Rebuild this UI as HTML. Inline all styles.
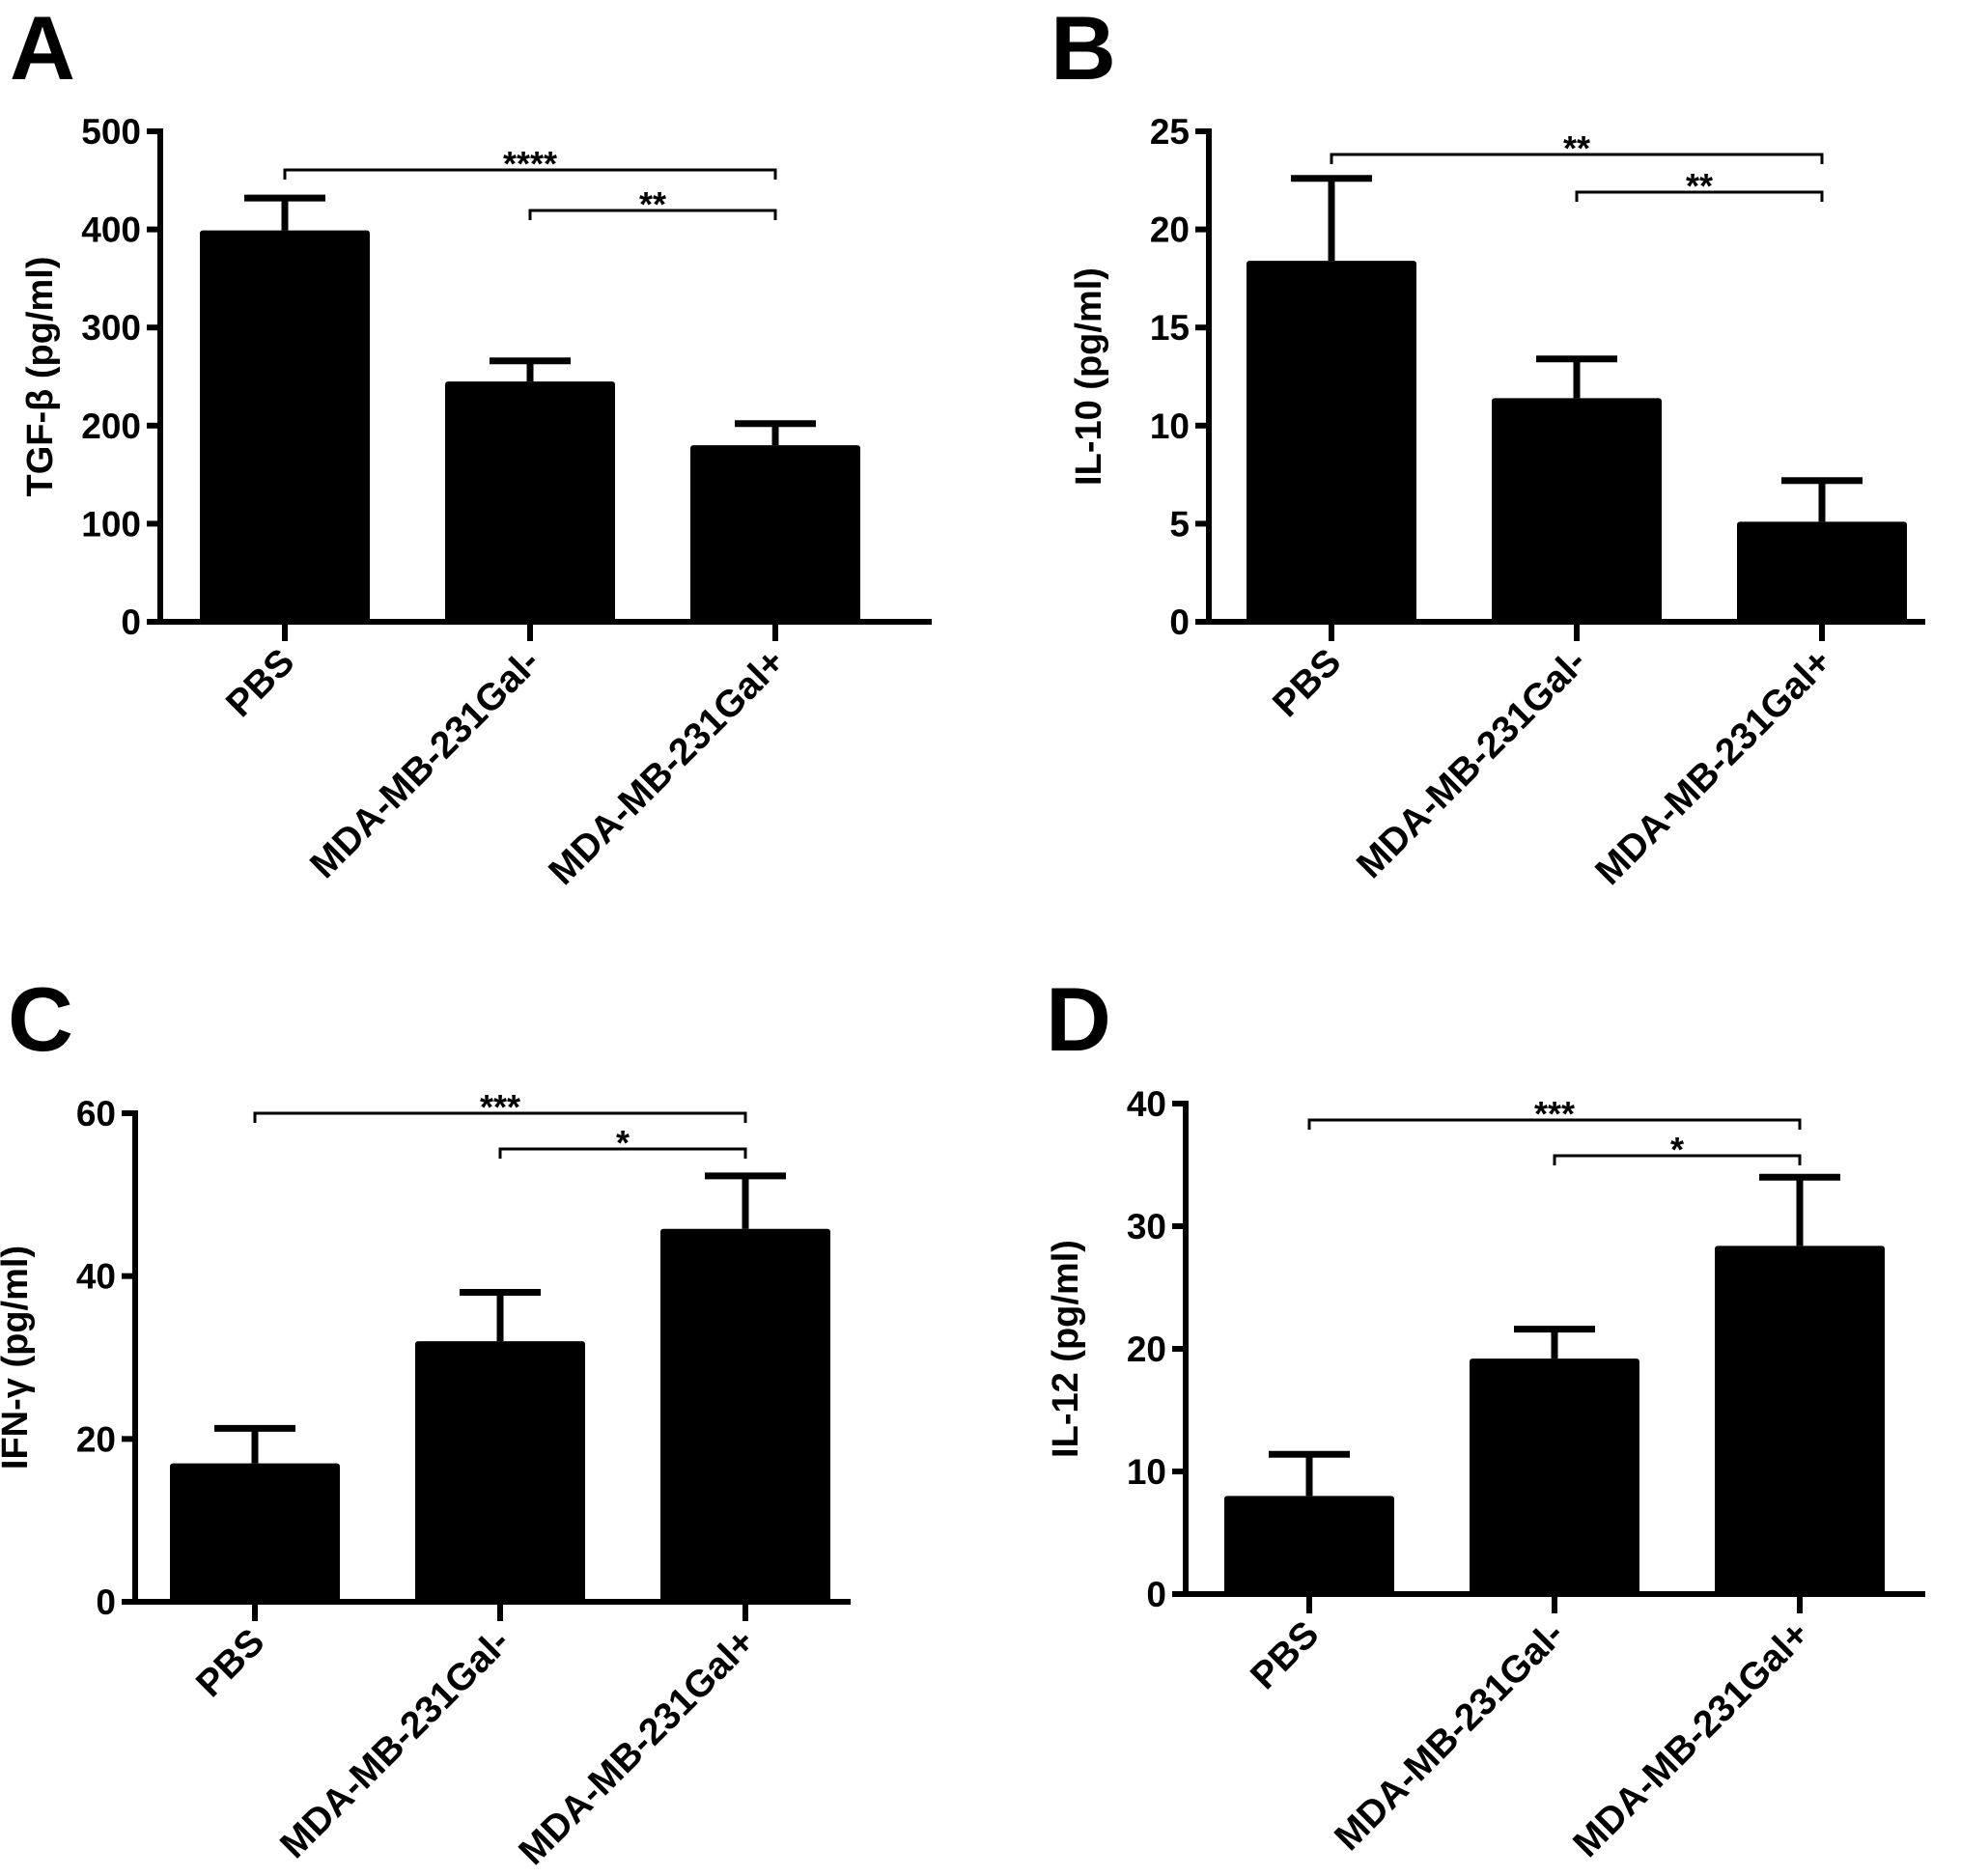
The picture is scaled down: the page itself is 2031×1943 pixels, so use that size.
<!DOCTYPE html>
<html><head><meta charset="utf-8">
<style>
html,body{margin:0;padding:0;background:#fff;}
svg{display:block;font-family:"Liberation Sans",Arial,sans-serif;}
</style></head>
<body>
<svg id="fig" width="2031" height="1943" viewBox="0 0 2031 1943" xmlns="http://www.w3.org/2000/svg"></svg>
<script>
const categories = ["PBS","MDA-MB-231Gal-","MDA-MB-231Gal+"];
const panelLetters = ["A","B","C","D"];
const yTitles = ["TGF-β (pg/ml)","IL-10 (pg/ml)","IFN-γ (pg/ml)","IL-12 (pg/ml)"];
const yMaxes = [500,25,60,40];
const yTickStep = [100,5,20,10];
const meansA = [399,245,180];
const errsA = [432,266,202];
const meansB = [18.4,11.4,5.1];
const errsB = [22.6,13.4,7.2];
const meansC = [17,32,45.8];
const errsC = [21.3,38,52.3];
const meansD = [8,19.2,28.4];
const errsD = [11.4,21.6,34];
const sigLabelsA = ["****","**"];
const sigLabelsB = ["**","**"];
const sigLabelsC = ["***","*"];
const sigLabelsD = ["***","*"];

const NS="http://www.w3.org/2000/svg";
const svg=document.getElementById('fig');
function mk(tag,attrs,parent){const e=document.createElementNS(NS,tag);for(const k in attrs)e.setAttribute(k,attrs[k]);(parent||svg).appendChild(e);return e;}

const layouts=[
 {ax:166,y0:644,yTop:136,x0:160,xEnd:965,c0:295,dc:254,lx:10,ly:82,bY:[176,218]},
 {ax:1252,y0:644,yTop:136,x0:1246,xEnd:1994,c0:1379,dc:254,lx:1088,ly:82,bY:[160,199]},
 {ax:140,y0:1659,yTop:1153,x0:134,xEnd:881,c0:264,dc:254,lx:8,ly:1088,bY:[1153,1190]},
 {ax:1228,y0:1651,yTop:1143,x0:1222,xEnd:1994,c0:1356,dc:254,lx:1083,ly:1088,bY:[1160,1197]}
];
const means=[meansA,meansB,meansC,meansD];
const errs=[errsA,errsB,errsC,errsD];
const sigs=[sigLabelsA,sigLabelsB,sigLabelsC,sigLabelsD];
const barW=176;

layouts.forEach((L,p)=>{
  const g=mk('g',{});
  
  
  const yS=v=>L.y0-(v/yMaxes[p])*(L.y0-L.yTop);
  const xS=i=>L.c0+i*L.dc;
  const letter=mk('text',{x:L.lx,y:L.ly,'font-size':94,'font-weight':'bold',fill:'#000'},g);
  letter.textContent=panelLetters[p];
  
  
  means[p].forEach((m,i)=>{
    const cx=xS(i);
    const eb=mk('line',{x1:cx,x2:cx,y1:yS(m),y2:yS(errs[p][i]),stroke:'#000','stroke-width':7},g);
    
    
    const cap=mk('line',{x1:cx-42,x2:cx+42,y1:yS(errs[p][i]),y2:yS(errs[p][i]),stroke:'#000','stroke-width':7},g);
    
    
    const b=mk('rect',{x:cx-barW/2,y:yS(m),width:barW,height:L.y0-yS(m),rx:3,fill:'#000'},g);
    
    
  });
  const ya=mk('line',{x1:L.ax,x2:L.ax,y1:L.yTop-3,y2:L.y0+3,stroke:'#000','stroke-width':6},g);
  
  
  for(let v=0;v<=yMaxes[p];v+=yTickStep[p]){
    const y=yS(v);
    const t=mk('line',{x1:L.ax-14,x2:L.ax,y1:y,y2:y,stroke:'#000','stroke-width':6},g);
    
    
    const lb=mk('text',{x:L.ax-20,y:y+13,'font-size':37,'font-weight':'bold','text-anchor':'end',fill:'#000'},g);
    lb.textContent=v;
    
    
  }
  const yt=mk('text',{x:0,y:0,'font-size':38,'font-weight':'bold','text-anchor':'middle',fill:'#000',transform:`translate(${L.ax-112},${(L.y0+L.yTop)/2}) rotate(-90)`},g);
  yt.textContent=yTitles[p];
  
  
  const xa=mk('line',{x1:L.x0-8,x2:L.xEnd,y1:L.y0,y2:L.y0,stroke:'#000','stroke-width':6},g);
  
  
  categories.forEach((c,i)=>{
    const cx=xS(i);
    const t=mk('line',{x1:cx,x2:cx,y1:L.y0,y2:L.y0+20,stroke:'#000','stroke-width':6},g);
    
    
    const lb=mk('text',{x:0,y:0,'font-size':39,'font-weight':'bold','text-anchor':'end',fill:'#000',transform:`translate(${cx+12},${L.y0+44}) rotate(-45)`},g);
    lb.textContent=c;
    
    
  });
  const pairs=[[0,2],[1,2]];
  pairs.forEach((pr,k)=>{
    const y=L.bY[k];
    const x1=xS(pr[0]),x2=xS(pr[1]);
    const br=mk('path',{d:`M${x1},${y+10} V${y} H${x2} V${y+10}`,fill:'none',stroke:'#000','stroke-width':3},g);
    
    
    const st=mk('text',{x:(x1+x2)/2,y:y+6,'font-size':36,'font-weight':'bold','text-anchor':'middle',fill:'#000'},g);
    st.textContent=sigs[p][k];
    
    
  });
});
</script>
</body></html>
